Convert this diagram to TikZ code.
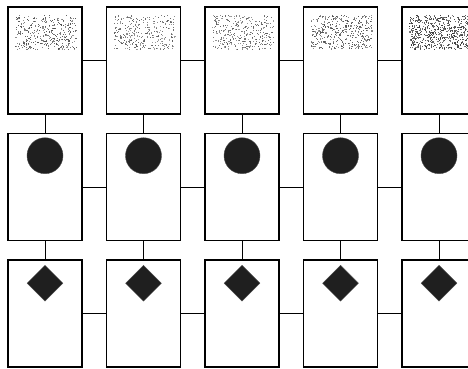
\documentclass[tikz,border=0pt]{standalone}
\usetikzlibrary{positioning,shapes.geometric,calc}

\begin{document}
\begin{tikzpicture}[x=1pt, y=1pt, node distance=19.5pt and 24.5pt, box/.style={draw, line width=1.1pt, minimum width=74pt, minimum height=107pt, inner sep=0pt, outer sep=0pt, fill=white}, conn/.style={line width=0.9pt}, disc/.style={circle, fill=black!88, draw=black!70, minimum size=36pt, inner sep=0pt}, gem/.style={diamond, fill=black!88, draw=black!70, minimum width=36pt, minimum height=36pt, inner sep=0pt}]
\useasboundingbox (0,0) rectangle (468,-369);
\clip (0,0) rectangle (468,-369);
\pgfmathsetseed{4711}
% first column
\node[box] (top1) at (45,-60.5) {};
\node[box, below=of top1] (mid1) {};
\node[box, below=of mid1] (bot1) {};
% other columns
\foreach \i in {2,...,5} {
  \pgfmathtruncatemacro\p{\i-1}
  \node[box, right=of top\p] (top\i) {};
  \node[box, right=of mid\p] (mid\i) {};
  \node[box, right=of bot\p] (bot\i) {};
}
% stippled band, circles and diamonds
\foreach \i/\n/\g in {1/340/40, 2/300/35, 3/340/35, 4/400/40, 5/620/50} {
  \foreach \k in {1,...,\n} {
    \pgfmathsetmacro\s{\g+30*rnd}
    \fill[black!\s] ($(top\i.north west)+(7+61*rnd,-8-34*rnd)$) rectangle ++(1.1,-1.1);
  }
  \node[disc, below=4pt of mid\i.north] (c\i) {};
  \node[gem, below=5pt of bot\i.north] (d\i) {};
}
% connectors
\foreach \i in {1,...,4} {
  \pgfmathtruncatemacro\q{\i+1}
  \draw[conn] (top\i) -- (top\q); \draw[conn] (mid\i) -- (mid\q); \draw[conn] (bot\i) -- (bot\q);
}
\foreach \i in {1,...,5} {
  \draw[conn] (top\i) -- (mid\i); \draw[conn] (mid\i) -- (bot\i);
}
\end{tikzpicture}
\end{document}
